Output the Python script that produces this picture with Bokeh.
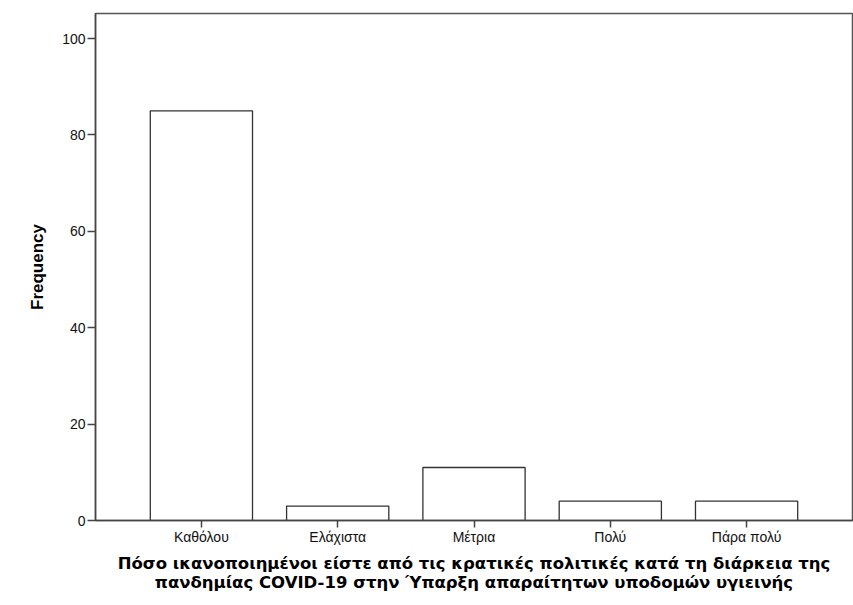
from bokeh.plotting import figure
from bokeh.models import Range1d, FixedTicker, ColumnDataSource
from bokeh.embed import file_html
from bokeh.resources import INLINE

categories = ["Καθόλου", "Ελάχιστα", "Μέτρια", "Πολύ", "Πάρα πολύ"]
frequency = [85, 3, 11, 4, 4]
y_ticks = [0, 20, 40, 60, 80, 100]
x_title = ("Πόσο ικανοποιημένοι είστε από τις κρατικές πολιτικές κατά τη διάρκεια της\n"
           "πανδημίας COVID-19 στην Ύπαρξη απαραίτητων υποδομών υγιεινής")

positions = list(range(len(categories)))
src = ColumnDataSource(dict(x=positions, top=frequency))

p = figure(width=853, height=605, output_backend="svg", toolbar_location=None,
           x_range=Range1d(-0.777, 4.777), y_range=Range1d(0, 105.2),
           min_border_left=95, min_border_top=13, min_border_right=1, min_border_bottom=85)

p.vbar(x="x", top="top", width=0.75, source=src, fill_color="white",
       line_color="#333333", line_width=1.3)

p.background_fill_color = "white"
p.border_fill_color = "white"
p.outline_line_color = "#555555"
p.outline_line_width = 1.5
p.grid.visible = False

for ax in (p.xaxis[0], p.yaxis[0]):
    ax.axis_line_color = "#444444"
    ax.axis_line_width = 1.5
    ax.major_tick_line_color = "#444444"
    ax.major_tick_line_width = 1.5
    ax.major_tick_in = 0
    ax.minor_tick_line_color = None
    ax.major_label_text_font = "Liberation Sans"
    ax.major_label_text_color = "#111111"
    ax.major_label_text_font_size = "14px"
    ax.axis_label_text_font_style = "bold"
    ax.axis_label_text_color = "black"

p.yaxis.ticker = FixedTicker(ticks=y_ticks)
p.yaxis.major_tick_out = 8
p.yaxis.major_label_standoff = 2
p.yaxis.axis_label = "Frequency"
p.yaxis.axis_label_text_font = "Liberation Sans"
p.yaxis.axis_label_text_font_size = "17px"
p.yaxis.axis_label_standoff = 12

p.xaxis.ticker = FixedTicker(ticks=positions)
p.xaxis.major_label_overrides = {i: c for i, c in zip(positions, categories)}
p.xaxis.major_tick_out = 7
p.xaxis.major_label_standoff = 1
p.xaxis.axis_label = x_title
p.xaxis.axis_label_text_font = "DejaVu Sans"
p.xaxis.axis_label_text_font_size = "16.5px"
p.xaxis.axis_label_standoff = 6
p.xaxis.axis_label_text_line_height = 1.05

open("out.html", "w").write(file_html(p, INLINE))
